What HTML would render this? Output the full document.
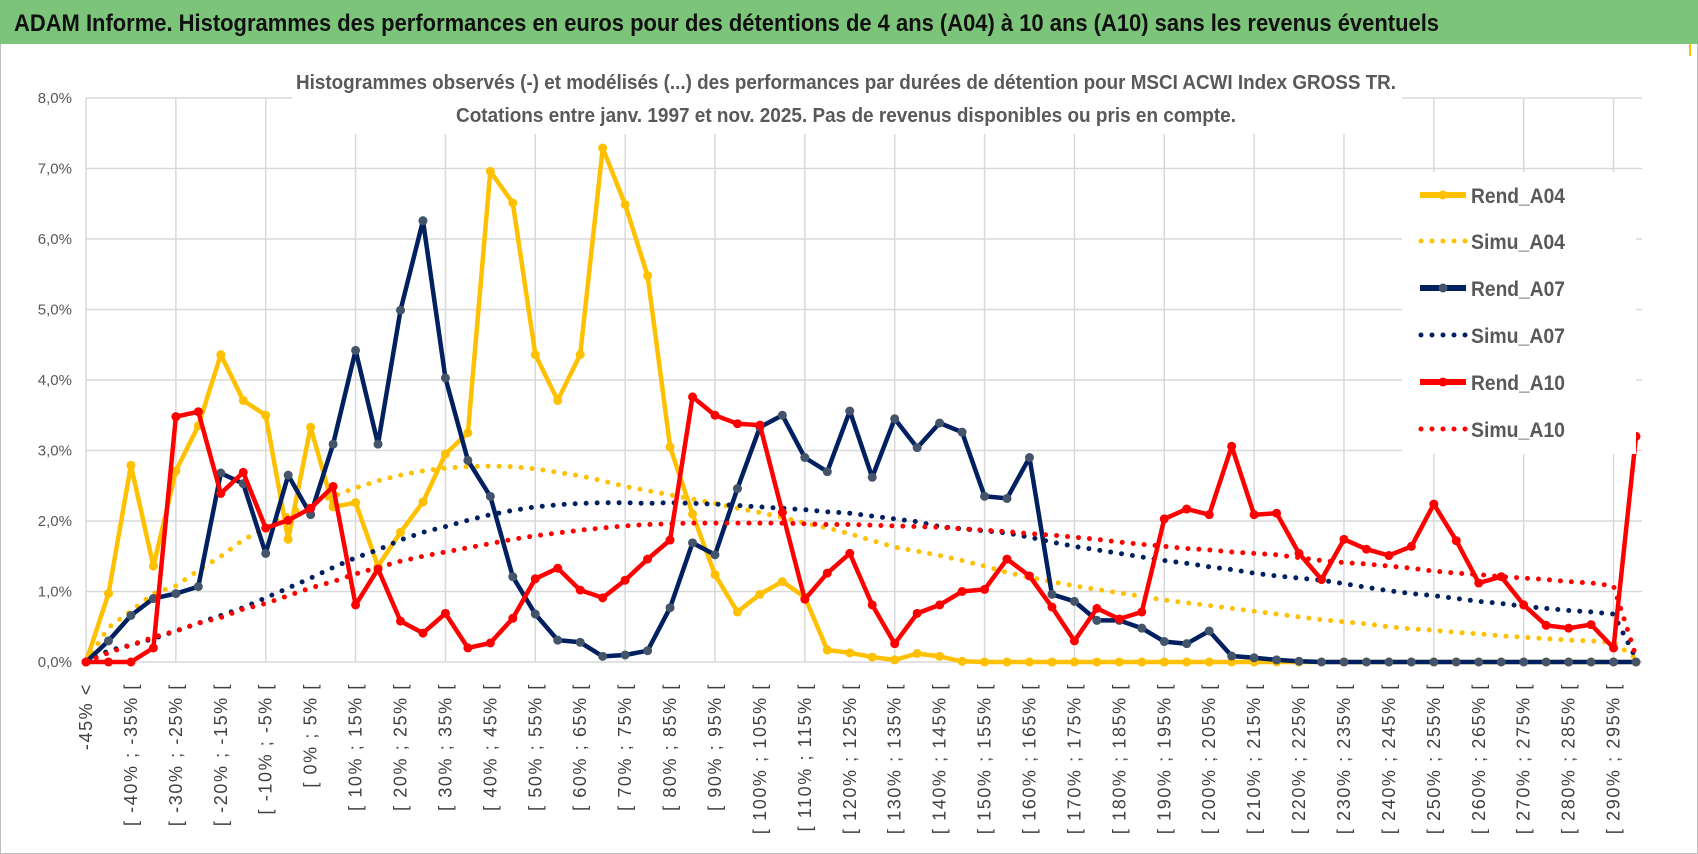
<!DOCTYPE html>
<html><head><meta charset="utf-8">
<style>
html,body{margin:0;padding:0;background:#fff;}
svg{display:block;font-family:"Liberation Sans Narrow","Liberation Sans",sans-serif;}
</style></head>
<body>
<svg id="chart" width="1698" height="854" viewBox="0 0 1698 854" xmlns="http://www.w3.org/2000/svg">
<rect x="0.5" y="0.5" width="1697" height="853" fill="#fff" stroke="#bfbfbf"/>
<rect x="0" y="0" width="1698" height="44" fill="#7cc47a"/>
<text x="14" y="31" font-size="24" font-weight="bold" fill="#111" textLength="1425" lengthAdjust="spacingAndGlyphs">ADAM Informe. Histogrammes des performances en euros pour des détentions de 4 ans (A04) à 10 ans (A10) sans les revenus éventuels</text>
<line x1="1690" y1="44" x2="1690" y2="56" stroke="#ffc000" stroke-width="2"/>
<g id="grid"></g>
<rect x="292" y="64" width="1110" height="70" fill="#fff"/>
<text x="846" y="89" text-anchor="middle" font-size="20" font-weight="bold" fill="#595959" textLength="1100" lengthAdjust="spacingAndGlyphs">Histogrammes observés (-) et modélisés (...) des performances par durées de détention pour MSCI ACWI Index GROSS TR.</text>
<text x="846" y="122" text-anchor="middle" font-size="20" font-weight="bold" fill="#595959" textLength="780" lengthAdjust="spacingAndGlyphs">Cotations entre janv. 1997 et nov. 2025. Pas de revenus disponibles ou pris en compte.</text>
<g id="yaxis"></g>
<g id="xaxis"></g>
<g id="series"></g>
<g id="legend"></g>
</svg>
<script>
const yTicks = [0,1,2,3,4,5,6,7,8];
const yTickLabels = ["0,0%","1,0%","2,0%","3,0%","4,0%","5,0%","6,0%","7,0%","8,0%"];
const rendA04 = [0,0.97,2.79,1.36,2.71,3.35,4.36,3.71,3.5,1.74,3.33,2.2,2.26,1.36,1.84,2.27,2.95,3.25,6.96,6.51,4.36,3.71,4.36,7.29,6.49,5.48,3.05,2.1,1.24,0.71,0.96,1.14,0.92,0.17,0.13,0.07,0.03,0.12,0.08,0.01,0,0,0,0,0,0,0,0,0,0,0,0,0,0,0,0,0,0,0,0,0,0,0,0,0,0,0,0,0,0];
const simuA04 = [0,0.49,0.72,0.97,1.08,1.3,1.5,1.73,1.9,2.09,2.25,2.35,2.47,2.57,2.65,2.71,2.75,2.77,2.78,2.77,2.74,2.69,2.64,2.57,2.49,2.43,2.37,2.31,2.25,2.18,2.12,2.05,1.97,1.9,1.82,1.72,1.63,1.57,1.51,1.44,1.36,1.27,1.2,1.14,1.08,1.03,0.98,0.93,0.88,0.84,0.8,0.76,0.72,0.68,0.64,0.6,0.57,0.54,0.5,0.47,0.45,0.42,0.4,0.37,0.35,0.33,0.31,0.3,0.28,0.05];
const rendA07 = [0,0.3,0.66,0.9,0.97,1.07,2.68,2.53,1.54,2.65,2.09,3.09,4.42,3.09,4.99,6.26,4.03,2.86,2.35,1.21,0.68,0.31,0.28,0.08,0.1,0.16,0.77,1.69,1.52,2.46,3.33,3.5,2.9,2.7,3.56,2.62,3.45,3.04,3.39,3.26,2.35,2.32,2.9,0.96,0.86,0.59,0.59,0.48,0.29,0.26,0.44,0.085,0.06,0.03,0.01,0,0,0,0,0,0,0,0,0,0,0,0,0,0,0];
const simuA07 = [0,0.16,0.24,0.33,0.44,0.55,0.66,0.77,0.91,1.05,1.19,1.34,1.48,1.59,1.73,1.84,1.92,2.01,2.09,2.15,2.2,2.23,2.25,2.26,2.26,2.25,2.26,2.25,2.24,2.22,2.2,2.18,2.16,2.13,2.11,2.07,2.03,1.99,1.92,1.89,1.86,1.83,1.77,1.7,1.64,1.59,1.54,1.49,1.44,1.4,1.35,1.31,1.26,1.22,1.19,1.16,1.11,1.06,1.01,0.97,0.94,0.9,0.86,0.83,0.79,0.76,0.73,0.71,0.68,0.05];
const rendA10 = [0,0,0,0.2,3.48,3.55,2.39,2.69,1.9,2.01,2.18,2.49,0.81,1.32,0.58,0.41,0.69,0.2,0.27,0.62,1.18,1.33,1.02,0.91,1.16,1.46,1.73,3.76,3.5,3.38,3.36,2.12,0.89,1.26,1.54,0.81,0.26,0.69,0.81,1.0,1.03,1.46,1.22,0.78,0.3,0.76,0.61,0.71,2.03,2.17,2.09,3.06,2.09,2.11,1.54,1.17,1.74,1.6,1.51,1.64,2.24,1.72,1.12,1.21,0.81,0.52,0.48,0.53,0.2,3.2];
const simuA10 = [0,0.13,0.24,0.35,0.44,0.55,0.63,0.75,0.83,0.94,1.05,1.14,1.25,1.34,1.43,1.5,1.56,1.62,1.68,1.74,1.79,1.83,1.87,1.9,1.93,1.95,1.96,1.97,1.97,1.97,1.97,1.97,1.96,1.95,1.95,1.94,1.93,1.92,1.91,1.89,1.87,1.85,1.82,1.8,1.77,1.74,1.7,1.67,1.64,1.61,1.59,1.56,1.54,1.52,1.48,1.44,1.41,1.39,1.36,1.33,1.29,1.26,1.24,1.21,1.19,1.17,1.14,1.12,1.08,0.08];
const categories = [];
categories.push("-45% <");
for (let i = 1; i < 70; i++) {
  const a = -50 + 5*i, b = -45 + 5*i;
  categories.push("[ " + a + "% ; " + b + "% [");
}
const NS = "http://www.w3.org/2000/svg";
const X0 = 86, X1 = 1636, Y0 = 662, Y8 = 98;
function xPos(i){ return X0 + (X1 - X0) * i / (categories.length - 1); }
function yPos(v){ return Y0 - (Y0 - Y8) * v / 8; }
function mk(tag, attrs, parent){ const e = document.createElementNS(NS, tag); for (const k in attrs) e.setAttribute(k, attrs[k]); parent.appendChild(e); return e; }

const grid = document.getElementById('grid');
yTicks.forEach(function(t){
  const l = mk('line', {x1: X0, x2: 1642, y1: yPos(t), y2: yPos(t), stroke: '#d9d9d9', 'stroke-width': 1.5}, grid);
  
  
});
for (let i = 0; i < categories.length; i += 4) {
  const l = mk('line', {x1: xPos(i), x2: xPos(i), y1: Y8, y2: Y0, stroke: '#d9d9d9', 'stroke-width': 1.5}, grid);
  
  
}
const yax = document.getElementById('yaxis');
yTicks.forEach(function(t, k){
  const tx = mk('text', {x: 72, y: yPos(t) + 5, 'text-anchor': 'end', 'font-size': 15, fill: '#595959'}, yax);
  tx.textContent = yTickLabels[k];
  
  
});
const xax = document.getElementById('xaxis');
for (let i = 0; i < categories.length; i += 2) {
  const x = xPos(i) + 6, y = 683;
  const tx = mk('text', {x: x, y: y, 'text-anchor': 'end', 'font-size': 18, 'letter-spacing': 1.6, fill: '#404040', transform: 'rotate(-90 ' + x + ' ' + y + ')'}, xax);
  tx.textContent = categories[i];
  
  
}
const ser = document.getElementById('series');
function pts(arr){ return arr.map(function(v, i){ return xPos(i).toFixed(1) + ',' + yPos(v).toFixed(1); }).join(' '); }
function solid(arr, color, mcolor, name){
  const g = mk('g', {}, ser);
  
  
  mk('polyline', {points: pts(arr), fill: 'none', stroke: color, 'stroke-width': 4.5, 'stroke-linejoin': 'round'}, g);
  arr.forEach(function(v, i){
    const c = mk('circle', {cx: xPos(i), cy: yPos(v), r: 4.5, fill: mcolor}, g);
    
    
  });
}
function dotted(arr, color, name){
  const p = mk('polyline', {points: pts(arr), fill: 'none', stroke: color, 'stroke-width': 5, 'stroke-linecap': 'round', 'stroke-dasharray': '0 11'}, ser);
  
  
}
solid(rendA04, '#ffc000', '#ffc000', 'rend-a04-line');
dotted(simuA04, '#ffc000', 'simu-a04-line');
solid(rendA07, '#002060', '#44546a', 'rend-a07-line');
dotted(simuA07, '#002060', 'simu-a07-line');
solid(rendA10, '#ff0000', '#ff0000', 'rend-a10-line');
dotted(simuA10, '#ff0000', 'simu-a10-line');

const leg = document.getElementById('legend');
const bg = mk('rect', {x: 1402, y: 172, width: 234, height: 282, fill: '#fff'}, leg);


const legNames = ["Rend_A04","Simu_A04","Rend_A07","Simu_A07","Rend_A10","Simu_A10"];
const legColors = ['#ffc000','#ffc000','#002060','#002060','#ff0000','#ff0000'];
const legY = [195, 241, 288, 335, 382, 429];
legNames.forEach(function(n, k){
  const g = mk('g', {}, leg);
  
  
  if (k % 2 === 0) {
    mk('line', {x1: 1420, x2: 1466, y1: legY[k], y2: legY[k], stroke: legColors[k], 'stroke-width': 6}, g);
    mk('circle', {cx: 1443, cy: legY[k], r: 4.5, fill: k === 2 ? '#44546a' : legColors[k]}, g);
  } else {
    mk('line', {x1: 1421, x2: 1466, y1: legY[k], y2: legY[k], stroke: legColors[k], 'stroke-width': 5, 'stroke-linecap': 'round', 'stroke-dasharray': '0 11'}, g);
  }
  const t = mk('text', {x: 1471, y: legY[k] + 8, 'font-size': 21, 'font-weight': 'bold', fill: '#595959', textLength: 94, lengthAdjust: 'spacingAndGlyphs'}, g);
  t.textContent = n;
});
</script>
</body></html>
